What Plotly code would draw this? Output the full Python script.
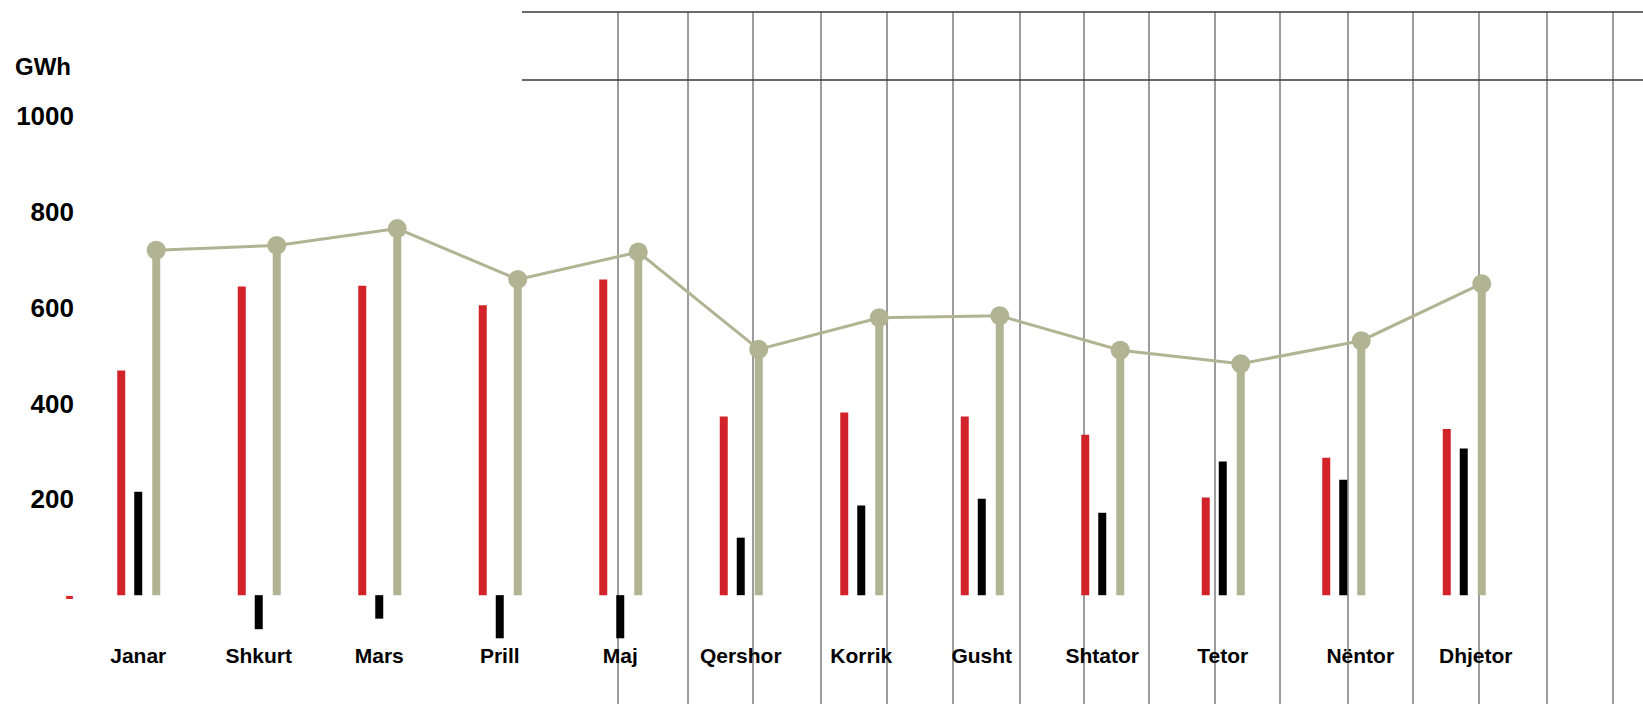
import numpy as np
import plotly.graph_objects as go

# Monthly energy figures (GWh)
months = ["Janar", "Shkurt", "Mars", "Prill", "Maj", "Qershor",
          "Korrik", "Gusht", "Shtator", "Tetor", "Nëntor", "Dhjetor"]
red_vals = [469, 644, 646, 605, 659, 373, 381, 373, 335, 204, 287, 347]
black_vals = [216, -71, -49, -90, -90, 120, 187, 201, 172, 279, 241, 306]
green_vals = [720, 730, 765, 659, 716, 513, 579, 583, 511, 483, 531, 650]

y_tickvals = [-200, 0, 200, 400, 600, 800, 1000]
y_ticktext = ["(200)", '<span style="color:#D2232A">-</span>',
              "200", "400", "600", "800", "1000"]

RED = "#D2232A"
BLACK = "#000000"
SAGE = "#B0B493"

# layout geometry (pixels)
W, H = 1643, 704
ML, MR, MT, MB = 78, 119, 116, 13
plot_w = W - ML - MR
plot_h = H - MT - MB
px_per_cat = plot_w / 12.0

bar_w = 8 / px_per_cat
red_shift = -17 / px_per_cat
green_shift = 18 / px_per_cat

# month labels sit under the black bar, the last two nudged right
label_nudge_px = np.array([0, 0, 0, 0, 0, 0, 0, 0, 0, 0, 17, 12])

idx = np.arange(len(months))

fig = go.Figure()
fig.add_trace(go.Bar(x=idx + red_shift, y=red_vals, width=bar_w,
                     marker=dict(color=RED, line=dict(width=0)), name="red"))
fig.add_trace(go.Bar(x=idx, y=black_vals, width=bar_w,
                     marker=dict(color=BLACK, line=dict(width=0)), name="black"))
fig.add_trace(go.Bar(x=idx + green_shift, y=green_vals, width=bar_w,
                     marker=dict(color=SAGE, line=dict(width=0)), name="green"))
fig.add_trace(go.Scatter(x=idx + green_shift, y=green_vals, mode="lines+markers",
                         line=dict(color=SAGE, width=3),
                         marker=dict(color=SAGE, size=19), cliponaxis=False))


def xp(px):
    return (px - ML) / plot_w


def yp(py):
    return (H - MB - py) / plot_h


# ruled frame across the upper right
shapes = []
rule_top, rule_mid = 12, 80
for ry in (rule_top, rule_mid):
    shapes.append(dict(type="line", xref="paper", yref="paper",
                       x0=xp(522), x1=xp(W), y0=yp(ry), y1=yp(ry),
                       line=dict(color="#6a6a6a", width=2), layer="below"))
rule_cols = [618, 688, 753, 821, 887, 953, 1020, 1084,
             1149, 1215, 1280, 1348, 1413, 1479, 1547, 1613]
for cx in rule_cols:
    shapes.append(dict(type="line", xref="paper", yref="paper",
                       x0=xp(cx), x1=xp(cx), y0=yp(rule_top), y1=yp(H),
                       line=dict(color="#3a3a3a", width=1), layer="below"))

fig.update_layout(
    width=W, height=H,
    margin=dict(l=ML, r=MR, t=MT, b=MB, pad=0),
    paper_bgcolor="white", plot_bgcolor="rgba(0,0,0,0)",
    barmode="overlay", showlegend=False,
    font=dict(family="Liberation Sans, Arial, sans-serif", color="black", weight=700),
    shapes=shapes,
    xaxis=dict(range=[-0.5, 11.5], tickvals=list(idx + label_nudge_px / px_per_cat),
               ticktext=months,
               showgrid=False, zeroline=False, showline=False, ticks="",
               anchor="free", position=yp(641),
               tickfont=dict(size=21, weight=700)),
    yaxis=dict(range=[-200, 1000], tickvals=y_tickvals, ticktext=y_ticktext,
               showgrid=False, zeroline=False, showline=False, ticks="",
               ticklabelstandoff=3,
               tickfont=dict(size=26, weight=700)),
    annotations=[dict(text="GWh", xref="paper", yref="paper", x=0, y=1,
                      xanchor="right", yanchor="middle", xshift=-5,
                      yshift=MT - 66, showarrow=False,
                      font=dict(size=24, weight=700))],
)

fig.write_html("out.html")
